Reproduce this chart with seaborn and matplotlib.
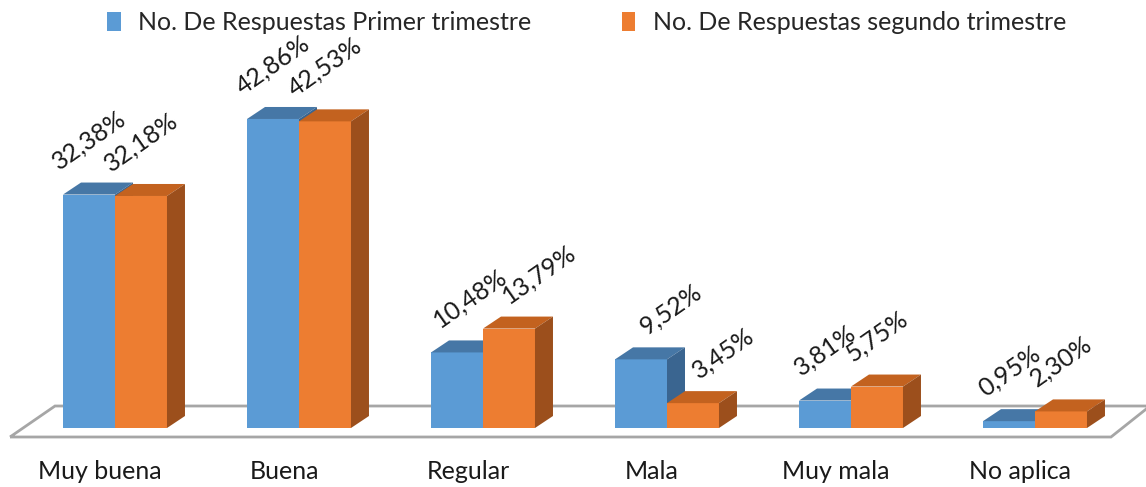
import pandas as pd
import seaborn as sns
import matplotlib.pyplot as plt
from matplotlib.patches import Polygon, Patch
from matplotlib.transforms import ScaledTranslation

# Data
categories = ["Muy buena", "Buena", "Regular", "Mala", "Muy mala", "No aplica"]
series = ["No. De Respuestas Primer trimestre", "No. De Respuestas segundo trimestre"]
primer = [32.38, 42.86, 10.48, 9.52, 3.81, 0.95]
segundo = [32.18, 42.53, 13.79, 3.45, 5.75, 2.30]

front_colors = ["#5B9BD5", "#ED7D31"]
top_colors = ["#4677A6", "#C3621F"]
side_colors = ["#3A6590", "#9C4F1C"]

df = pd.DataFrame({
    "categoria": categories * 2,
    "serie": [series[0]] * len(categories) + [series[1]] * len(categories),
    "valor": primer + segundo,
})

sns.set_style("white")
plt.rcParams["font.family"] = ["Lato", "DejaVu Sans"]

fig = plt.figure(figsize=(11.46, 4.87), dpi=100)
ax = fig.add_axes([0, 42 / 487, 1, 445 / 487])

sns.barplot(data=df, x="categoria", y="valor", hue="serie", order=categories,
            hue_order=series, palette=front_colors, saturation=1, width=0.565,
            linewidth=0, edgecolor="none", legend=False, ax=ax)

px_x = 184.0   # pixels per category
px_y = 7.21    # pixels per percent
ax.set_xlim(-115 / px_x, (1146 - 115) / px_x)
ax.set_ylim(-(445 - 428) / px_y, 428 / px_y)

# floor of the 3D plot
dyf_front = -9 / px_y
dyf_back = 22 / px_y
floor = Polygon([(-105 / px_x, dyf_front), (996 / px_x, dyf_front),
                 (1035 / px_x, dyf_back), (-60 / px_x, dyf_back)],
                closed=True, fill=False, edgecolor="#A6A6A6", lw=2, zorder=1)
ax.add_patch(floor)

# depth faces + value labels
dx = 18 / px_x
dy = 12 / px_y
for k, cont in enumerate(ax.containers):
    for i, p in enumerate(cont.patches):
        x0, w, h = p.get_x(), p.get_width(), p.get_height()
        p.set_zorder(2 + 2 * k)
        top = Polygon([(x0, h), (x0 + w, h), (x0 + w + dx, h + dy), (x0 + dx, h + dy)],
                      closed=True, facecolor=top_colors[k], lw=0, zorder=2 + 2 * k)
        side = Polygon([(x0 + w, 0), (x0 + w + dx, dy), (x0 + w + dx, h + dy), (x0 + w, h)],
                       closed=True, facecolor=side_colors[k], lw=0, zorder=2 + 2 * k)
        ax.add_patch(top)
        ax.add_patch(side)

        # crowded pairs get their labels nudged to the right (like Excel does)
        diff = segundo[i] - primer[i]
        shift = 0
        if abs(diff) > 2.5:
            shift = 30 if (k == 1 or diff < 0) else 13
        label = f"{h:.2f}%".replace(".", ",")
        ax.annotate(label, (x0 + w / 2, h + dy), xytext=(shift, 9),
                    textcoords="offset pixels", ha="center", va="bottom",
                    rotation=35, fontsize=18, color="#1a1a1a", zorder=10)

for s in ax.spines.values():
    s.set_visible(False)
ax.set_yticks([])
ax.set_xlabel("")
ax.set_ylabel("")
ax.tick_params(axis="x", length=0, pad=11, labelsize=18, labelcolor="#1a1a1a")
for lbl in ax.get_xticklabels():
    lbl.set_transform(lbl.get_transform() + ScaledTranslation(-0.15, 0, fig.dpi_scale_trans))

handles = [Patch(facecolor=c, edgecolor="none") for c in front_colors]
ax.legend(handles, series, loc="upper center", bbox_to_anchor=(0.512, 1.025), ncol=2,
          frameon=False, fontsize=18, handlelength=0.55, handleheight=0.8,
          handletextpad=0.7, columnspacing=3.6)

fig.savefig("out.png", dpi=100)
